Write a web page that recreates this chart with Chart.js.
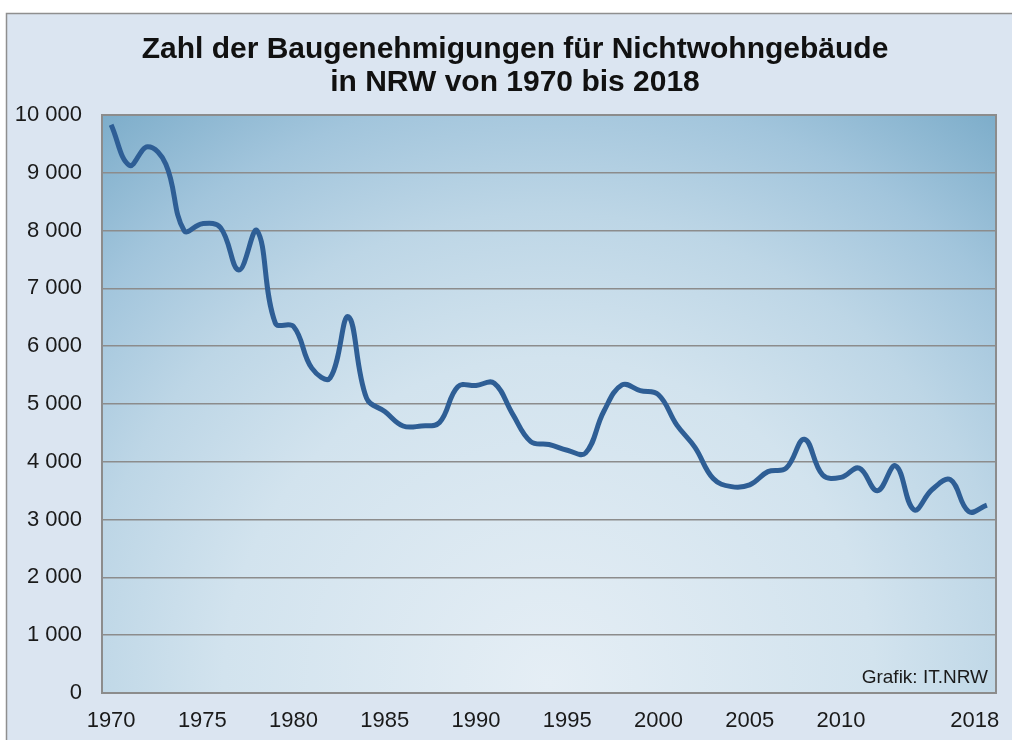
<!DOCTYPE html>
<html lang="de">
<head>
<meta charset="utf-8">
<title>Baugenehmigungen Nichtwohngebäude NRW</title>
<script src="https://cdn.jsdelivr.net/npm/chart.js@4/dist/chart.umd.min.js"></script>
<style>
    html, body { margin: 0; padding: 0; background: #ffffff; }
    canvas { display: block; }
</style>
</head>
<body>
<canvas id="chart" width="1012" height="740"></canvas>
<script>
// Data
const years = [];
for (let y = 1970; y <= 2018; y++) years.push(y);

const permits = [
    9830, 9130, 9450, 9150, 8000, 8120, 8050, 7320, 8000, 6400,
    6340, 5620, 5450, 6510, 5100, 4870, 4620, 4620, 4680, 5300,
    5320, 5360, 4830, 4350, 4300, 4200, 4150, 4870, 5330, 5230,
    5160, 4640, 4250, 3710, 3570, 3600, 3830, 3890, 4390, 3770,
    3730, 3890, 3500, 3930, 3170, 3520, 3690, 3140, 3250
];

const tickYears = [1970, 1975, 1980, 1985, 1990, 1995, 2000, 2005, 2010, 2018];
const yTicks = [0, 1000, 2000, 3000, 4000, 5000, 6000, 7000, 8000, 9000, 10000];

const titleLines = ['Zahl der Baugenehmigungen für Nichtwohngebäude', 'in NRW von 1970 bis 2018'];
const sourceText = 'Grafik: IT.NRW';

const FONT = '"Liberation Sans", Arial, sans-serif';

// Background, plot gradient, frame and texts
const decorPlugin = {
    id: 'decor',
    beforeDraw(chart) {
        const { ctx, chartArea: a } = chart;
        ctx.save();
        // outer panel
        ctx.fillStyle = '#dbe5f1';
        ctx.fillRect(6, 13, 1100, 800);
        ctx.strokeStyle = '#8f8f8f';
        ctx.lineWidth = 1.5;
        ctx.strokeRect(6.5, 13.5, 1100, 800);

        // plot area gradient
        const cx = (a.left + a.right) / 2;
        const cy = a.bottom - 10;
        const r = Math.hypot(a.right - cx, cy - a.top);
        const g = ctx.createRadialGradient(cx, cy, 0, cx, cy, r);
        g.addColorStop(0, '#e5eef5');
        g.addColorStop(0.45, '#d2e3ee');
        g.addColorStop(0.65, '#bdd6e6');
        g.addColorStop(0.82, '#a2c5dc');
        g.addColorStop(1, '#7dadca');
        ctx.fillStyle = g;
        ctx.fillRect(a.left, a.top, a.right - a.left, a.bottom - a.top);

        // title
        ctx.fillStyle = '#111111';
        ctx.font = 'bold 30px ' + FONT;
        ctx.textAlign = 'center';
        ctx.textBaseline = 'alphabetic';
        ctx.fillText(titleLines[0], 515, 58);
        ctx.fillText(titleLines[1], 515, 91);
        ctx.restore();
    },
    beforeDatasetsDraw(chart) {
        const { ctx, chartArea: a } = chart;
        ctx.save();
        ctx.strokeStyle = '#8c8c8c';
        ctx.lineWidth = 2;
        ctx.strokeRect(a.left, a.top, a.right - a.left, a.bottom - a.top);
        ctx.restore();
    },
    afterDraw(chart) {
        const { ctx, chartArea: a } = chart;
        ctx.save();
        ctx.fillStyle = '#1a1a1a';
        ctx.font = '19px ' + FONT;
        ctx.textAlign = 'right';
        ctx.textBaseline = 'alphabetic';
        ctx.fillText(sourceText, a.right - 8, a.bottom - 10);
        ctx.restore();
    }
};

const ctx = document.getElementById('chart').getContext('2d');

new Chart(ctx, {
    type: 'line',
    data: {
        labels: years,
        datasets: [{
            label: 'Baugenehmigungen',
            data: permits,
            borderColor: '#2e5e95',
            borderWidth: 5,
            pointRadius: 0,
            tension: 0.4,
            fill: false
        }]
    },
    options: {
        responsive: false,
        animation: false,
        devicePixelRatio: 1,
        layout: {
            padding: { left: 0, top: 115, right: 16, bottom: 0 }
        },
        plugins: {
            legend: { display: false },
            title: { display: false },
            tooltip: { enabled: false }
        },
        scales: {
            x: {
                type: 'category',
                offset: true,
                afterFit: (scale) => {
                    scale.height = 47;
                    // labels may overhang, keep the plot width fixed
                    scale.paddingLeft = 0;
                    scale.paddingRight = 0;
                },
                grid: { display: false, drawTicks: false },
                border: { display: false },
                ticks: {
                    autoSkip: false,
                    maxRotation: 0,
                    padding: 15,
                    color: '#1a1a1a',
                    font: { family: FONT, size: 22 },
                    callback: function (value) {
                        const yr = years[value];
                        if (!tickYears.includes(yr)) return '';
                        // last label is pulled left like in the original
                        return yr === 2018 ? '2018    ' : String(yr);
                    }
                }
            },
            y: {
                min: 0,
                max: 10000,
                afterFit: (scale) => { scale.width = 102; },
                afterBuildTicks: (scale) => {
                    scale.ticks = yTicks.map(v => ({ value: v }));
                },
                grid: { color: '#8c8c8c', lineWidth: 1.5, drawTicks: false },
                border: { display: false },
                ticks: {
                    padding: 20,
                    color: '#1a1a1a',
                    font: { family: FONT, size: 22 },
                    callback: (v) => String(v).replace(/\B(?=(\d{3})+(?!\d))/g, ' ')
                }
            }
        }
    },
    plugins: [decorPlugin]
});
</script>
</body>
</html>
